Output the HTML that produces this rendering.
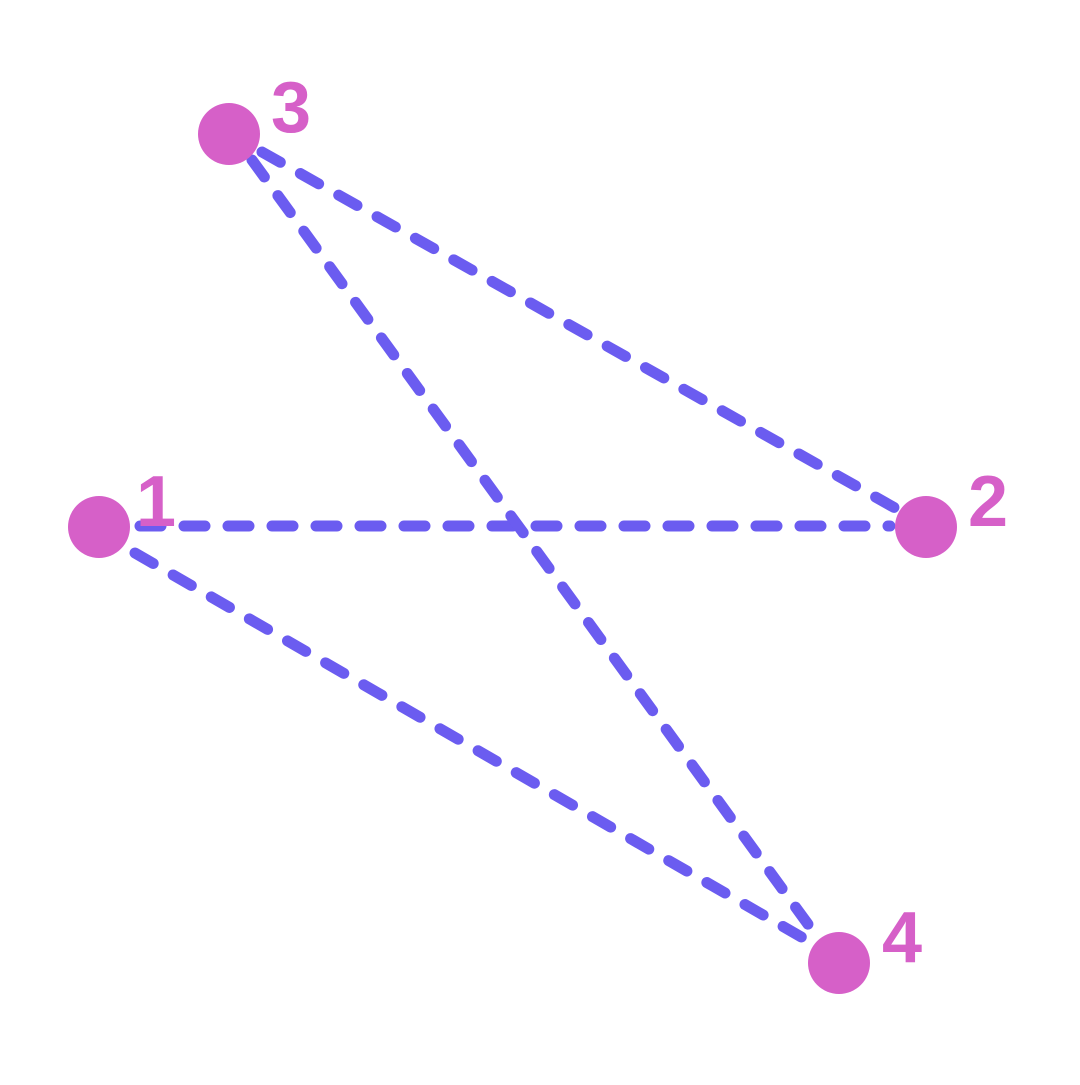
<!DOCTYPE html>
<html><head><meta charset="utf-8"><style>html,body{margin:0;padding:0;background:#fff}</style></head>
<body>
<svg width="1080" height="1080" xmlns="http://www.w3.org/2000/svg">
<g stroke="#6b5cf0" stroke-width="11" stroke-linecap="round" stroke-dasharray="21 23" fill="none">
<line x1="140" y1="526" x2="890" y2="526"/>
<line x1="135" y1="553" x2="810" y2="942"/>
<line x1="252" y1="160" x2="818" y2="938"/>
<line x1="262" y1="152" x2="895" y2="508"/>
</g>
<g fill="#d660c8">
<circle cx="99" cy="527" r="31"/>
<circle cx="926" cy="527" r="31"/>
<circle cx="229" cy="134" r="31"/>
<circle cx="839" cy="963" r="31"/>
</g>
<g fill="#d660c8" font-family="Liberation Sans, sans-serif" font-size="72" font-weight="bold">
<text x="136" y="526">1</text>
<text x="968" y="526">2</text>
<text x="271" y="132">3</text>
<text x="882" y="962">4</text>
</g>
</svg>
</body></html>
